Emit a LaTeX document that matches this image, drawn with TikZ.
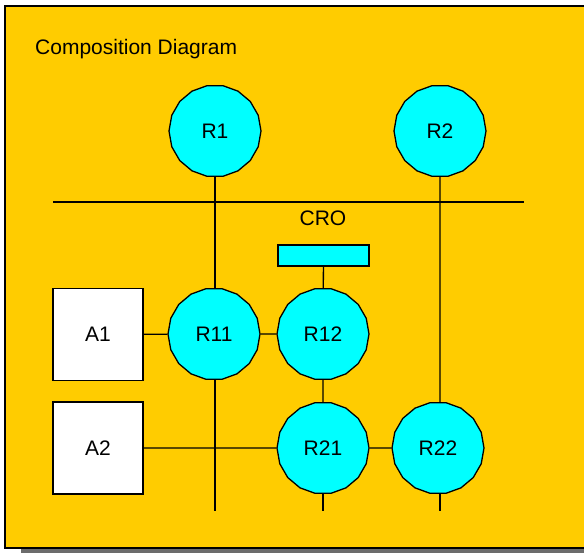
\documentclass[tikz,border=0pt]{standalone}
\usepackage{fontspec}
\setmainfont{Liberation Sans}
\usetikzlibrary{shapes.geometric}
\definecolor{bgyel}{HTML}{FFCC00}
\definecolor{cyanfill}{HTML}{00FFFF}
\begin{document}
\begin{tikzpicture}[x=1pt,y=-1pt,
  lbl/.style={font=\fontsize{21}{25}\selectfont},
  rnode/.style={regular polygon, regular polygon sides=18, minimum size=92pt, inner sep=0pt,
    draw=black, line width=1.3pt, fill=cyanfill, lbl},
  abox/.style={rectangle, draw=black, line width=1.3pt, fill=white, minimum width=90pt, minimum height=92pt, inner sep=0pt, lbl},
  wire/.style={draw=black, line width=1.3pt}]
\useasboundingbox (0,0) rectangle (584,552);
\fill[gray!85!black] (21,549) rectangle (600,556);
\draw[line width=1.3pt, fill=bgyel] (5,6) rectangle (600,548);
\node[lbl, anchor=base west, inner sep=0pt] (title) at (35,54) {Composition Diagram};
% horizontal bus
\coordinate (hl) at (53,202);
\coordinate (hr) at (524,202);
\draw[wire] (hl) -- (hr);
\node[lbl, inner sep=0pt] (crolbl) at (323,218) {CRO};
\node[rectangle, draw=black, line width=1.3pt, fill=cyanfill, minimum width=91pt, minimum height=21pt, inner sep=0pt] (cro) at (323.5,255.5) {};
% nodes
\node[rnode] (R1) at (215,131) {R1};
\node[rnode] (R2) at (440,131) {R2};
\node[rnode] (R11) at (214,334) {R11};
\node[rnode] (R12) at (323,334) {R12};
\node[rnode] (R21) at (323,448) {R21};
\node[rnode] (R22) at (438,448) {R22};
\node[abox] (A1) at (98,334.5) {A1};
\node[abox] (A2) at (98,448) {A2};
\coordinate (b11) at (215,380);
\coordinate (e11) at (215,511);
\coordinate (t22) at (440,402);
\coordinate (e21) at (323,511);
\coordinate (e22) at (440,511);
% connectors
\draw[wire] (R1.south) -- (R1.south |- R11.north);
\draw[wire] (R2.south) -- (t22);
\draw[wire] (b11) -- (e11);
\draw[wire] (A1) -- (R11);
\draw[wire] (R11) -- (R12);
\draw[wire] (cro) -- (R12);
\draw[wire] (R12) -- (R21);
\draw[wire] (A2) -- (R21);
\draw[wire] (R21) -- (R22);
\draw[wire] (R21) -- (e21);
\draw[wire] (e22 |- R22.south) -- (e22);
\end{tikzpicture}
\end{document}
